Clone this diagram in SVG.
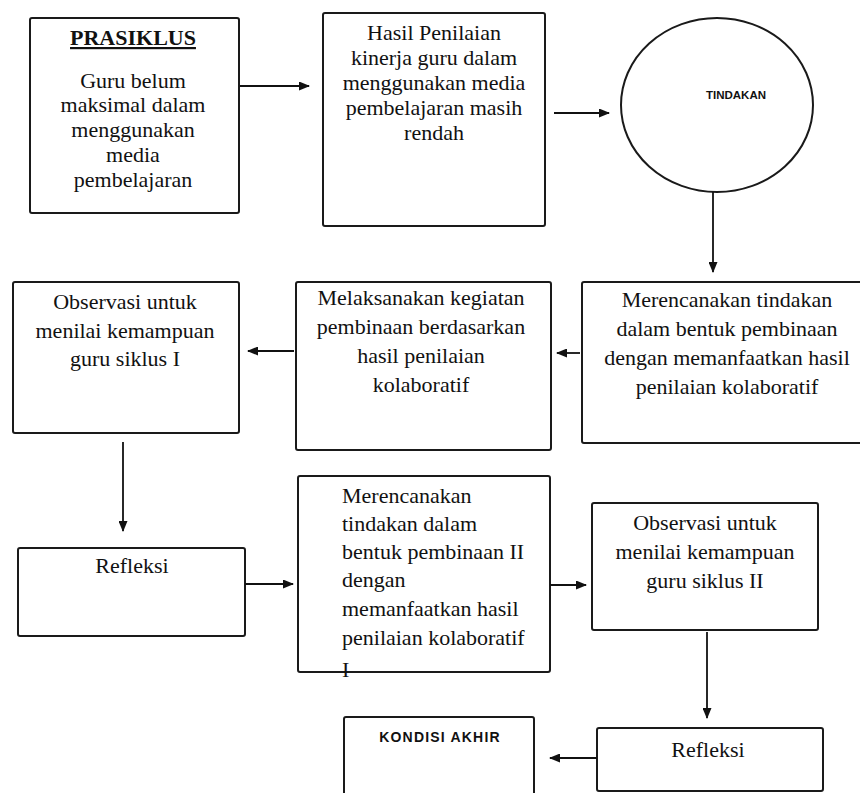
<svg xmlns="http://www.w3.org/2000/svg" width="860" height="793" viewBox="0 0 860 793">
  <style>
    .box { fill: #ffffff; stroke: #1a1a1a; stroke-width: 2; }
    .t { font-family: "Liberation Serif", "Times New Roman", serif; font-size: 22px; fill: #111111; }
    .c { text-anchor: middle; }
    .h { font-family: "Liberation Sans", Arial, sans-serif; font-weight: bold; fill: #111111; text-anchor: middle; }
    .conn { stroke: #111111; stroke-width: 1.8; fill: none; marker-end: url(#arrow); }
  </style>
  <defs>
    <marker id="arrow" markerUnits="userSpaceOnUse" markerWidth="11" markerHeight="9" refX="10" refY="4.5" orient="auto">
      <path d="M0,0 L11,4.5 L0,9 Z" fill="#111111"/>
    </marker>
  </defs>
  <rect x="0" y="0" width="860" height="793" fill="#ffffff"/>

  <g id="prasiklus">
    <rect class="box" x="30" y="18" width="209" height="195" rx="2"/>
    <text class="t c" x="133" y="45" font-weight="bold" text-decoration="underline">PRASIKLUS</text>
    <text class="t c" x="133" y="88">Guru belum</text>
    <text class="t c" x="133" y="112">maksimal dalam</text>
    <text class="t c" x="133" y="137">menggunakan</text>
    <text class="t c" x="133" y="162">media</text>
    <text class="t c" x="133" y="187">pembelajaran</text>
  </g>

  <g id="hasil-penilaian">
    <rect class="box" x="323" y="13" width="222" height="213" rx="2"/>
    <text class="t c" x="434" y="40">Hasil Penilaian</text>
    <text class="t c" x="434" y="65">kinerja guru dalam</text>
    <text class="t c" x="434" y="90">menggunakan media</text>
    <text class="t c" x="434" y="115">pembelajaran masih</text>
    <text class="t c" x="434" y="140">rendah</text>
  </g>

  <g id="tindakan">
    <ellipse cx="717" cy="105" rx="96" ry="87" fill="#ffffff" stroke="#1a1a1a" stroke-width="2"/>
    <text class="h" x="736" y="99" font-size="11.5">TINDAKAN</text>
  </g>

  <g id="merencanakan-1">
    <rect class="box" x="582" y="282" width="292" height="161" rx="2"/>
    <text class="t c" x="727" y="307">Merencanakan tindakan</text>
    <text class="t c" x="727" y="336">dalam bentuk pembinaan</text>
    <text class="t c" x="727" y="365">dengan memanfaatkan hasil</text>
    <text class="t c" x="727" y="394">penilaian kolaboratif</text>
  </g>

  <g id="melaksanakan">
    <rect class="box" x="296" y="282" width="255" height="168" rx="2"/>
    <text class="t c" x="421" y="305">Melaksanakan kegiatan</text>
    <text class="t c" x="421" y="334">pembinaan berdasarkan</text>
    <text class="t c" x="421" y="363">hasil penilaian</text>
    <text class="t c" x="421" y="392">kolaboratif</text>
  </g>

  <g id="observasi-1">
    <rect class="box" x="13" y="282" width="226" height="151" rx="2"/>
    <text class="t c" x="125" y="309">Observasi untuk</text>
    <text class="t c" x="125" y="338">menilai kemampuan</text>
    <text class="t c" x="125" y="366">guru siklus I</text>
  </g>

  <g id="refleksi-1">
    <rect class="box" x="18" y="548" width="227" height="88" rx="2"/>
    <text class="t c" x="132" y="573">Refleksi</text>
  </g>

  <g id="merencanakan-2">
    <rect class="box" x="298" y="476" width="252" height="196" rx="2"/>
    <text class="t" x="342" y="503">Merencanakan</text>
    <text class="t" x="342" y="531">tindakan dalam</text>
    <text class="t" x="342" y="559">bentuk pembinaan II</text>
    <text class="t" x="342" y="587">dengan</text>
    <text class="t" x="342" y="616">memanfaatkan hasil</text>
    <text class="t" x="342" y="645">penilaian kolaboratif</text>
    <text class="t" x="342" y="677">I</text>
  </g>

  <g id="observasi-2">
    <rect class="box" x="592" y="503" width="226" height="127" rx="2"/>
    <text class="t c" x="705" y="530">Observasi untuk</text>
    <text class="t c" x="705" y="559">menilai kemampuan</text>
    <text class="t c" x="705" y="588">guru siklus II</text>
  </g>

  <g id="refleksi-2">
    <rect class="box" x="597" y="728" width="226" height="63" rx="2"/>
    <text class="t c" x="708" y="757">Refleksi</text>
  </g>

  <g id="kondisi-akhir">
    <rect class="box" x="344" y="717" width="190" height="100" rx="2"/>
    <text class="h" x="440" y="742" font-size="14" letter-spacing="1.2">KONDISI AKHIR</text>
  </g>

  <g id="connectors">
    <line class="conn" x1="240" y1="86" x2="309" y2="86"/>
    <line class="conn" x1="554" y1="113" x2="609" y2="113"/>
    <line class="conn" x1="713" y1="192" x2="713" y2="272"/>
    <line class="conn" x1="580" y1="353" x2="557" y2="353"/>
    <line class="conn" x1="294" y1="351" x2="248" y2="351"/>
    <line class="conn" x1="123" y1="442" x2="123" y2="531"/>
    <line class="conn" x1="245" y1="584" x2="293" y2="584"/>
    <line class="conn" x1="550" y1="585" x2="586" y2="585"/>
    <line class="conn" x1="707" y1="632" x2="707" y2="718"/>
    <line class="conn" x1="597" y1="758" x2="550" y2="758"/>
  </g>
</svg>
